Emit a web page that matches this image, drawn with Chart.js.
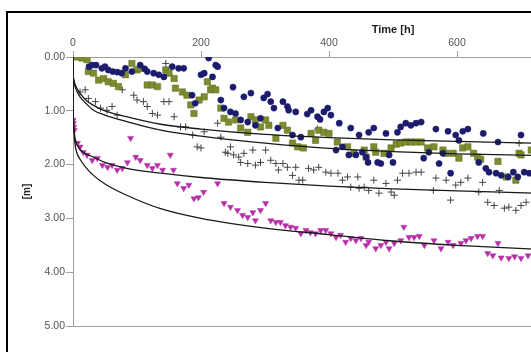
<!DOCTYPE html>
<html>
<head>
<meta charset="utf-8">
<script src="https://cdn.jsdelivr.net/npm/chart.js@4.4.1/dist/chart.umd.min.js"></script>
<style>
  html, body { margin: 0; padding: 0; background: #fff; overflow: hidden; }
  #wrap { width: 531px; height: 352px; overflow: hidden; position: relative; }
  canvas { position: absolute; left: 0; top: 0; }
</style>
</head>
<body>
<div id="wrap"><canvas id="c" width="760" height="352"></canvas></div>
<script>
// ---- data ----
const xTicks = [0, 200, 400, 600, 800, 1000];
const yTicks = [0, 1, 2, 3, 4, 5];

const blueT = [25,30,36,45,50,55,62,69,76,82,92,105,112,116,126,134,142,155,165,173,186,191,200,205,212,218,223,226,231,236,246,250,254,262,267,273,278,285,293,298,304,309,314,320,328,335,337,343,348,356,366,372,382,386,392,398,403,411,416,421,431,434,442,447,452,458,461,462,470,476,481,489,494,500,507,512,520,528,536,544,548,556,567,572,578,586,590,598,603,609,617,634,641,645,650,661,664,669,680,688,695,700,705,713];
const blueY = [0.18,0.15,0.15,0.21,0.18,0.24,0.27,0.28,0.30,0.21,0.27,0.15,0.22,0.27,0.30,0.33,0.37,0.18,0.21,0.21,0.71,0.86,0.33,0.30,0.02,0.37,0.15,0.18,0.80,0.95,1.02,0.56,1.05,1.17,0.74,1.21,0.67,1.27,1.14,0.76,0.69,0.83,0.95,1.32,0.83,0.92,0.99,1.45,1.02,1.49,1.06,0.99,1.11,1.16,1.02,0.95,1.08,1.73,1.23,1.67,1.82,1.32,1.82,1.45,1.77,1.86,1.96,1.40,1.32,1.96,1.98,1.42,1.82,1.96,1.40,1.30,1.23,1.27,1.23,1.21,1.88,1.77,1.34,1.98,1.79,1.38,2.16,1.45,1.55,1.38,1.34,1.96,1.42,2.07,2.14,2.16,1.58,2.20,2.23,2.14,2.23,1.45,2.14,2.16];

const greenT = [4,14,22,24,32,40,48,55,63,71,82,92,100,105,116,124,132,145,150,158,160,171,178,184,189,197,205,210,215,218,223,231,236,243,254,262,273,278,285,293,301,306,317,328,335,343,351,360,372,379,384,392,400,413,429,439,455,458,470,473,486,497,505,512,520,528,536,544,554,564,578,583,594,603,609,617,626,632,637,664,677,692,697,700,716];
const greenY = [0.00,0.02,0.05,0.27,0.30,0.43,0.40,0.46,0.49,0.55,0.33,0.12,0.24,0.21,0.52,0.52,0.55,0.24,0.30,0.40,0.58,0.65,0.71,0.89,1.05,0.80,0.74,0.46,0.61,0.58,0.61,0.95,1.14,1.21,1.17,1.32,1.40,1.11,1.17,1.30,1.17,1.27,1.51,1.27,1.36,1.60,1.67,1.69,1.42,1.55,1.36,1.40,1.42,1.58,1.67,1.79,1.73,1.86,1.67,1.77,1.79,1.69,1.62,1.60,1.58,1.58,1.58,1.58,1.69,1.67,1.73,1.79,1.79,1.88,1.69,1.67,1.79,1.86,1.90,1.94,2.23,2.29,1.79,1.82,1.73];

const crossT = [11,19,24,35,43,53,61,69,77,95,100,110,116,124,132,142,145,150,158,168,176,187,194,200,205,226,231,238,242,246,251,259,262,267,273,281,285,293,301,309,317,321,328,335,343,348,353,359,368,376,382,384,395,403,414,421,429,434,445,447,455,462,470,478,489,497,502,507,515,525,536,544,563,567,583,590,598,606,617,634,640,648,658,666,674,681,692,697,700,708];
const crossY = [0.65,0.61,0.77,0.83,0.95,0.99,0.92,1.08,0.61,0.71,0.80,0.83,0.92,1.05,1.08,0.83,0.12,0.83,1.11,1.30,1.30,1.45,1.67,1.69,1.39,1.23,1.49,1.77,1.79,1.67,1.82,1.86,1.96,1.79,1.98,1.73,2.01,1.96,1.73,1.92,1.98,2.10,1.98,2.05,2.20,2.05,2.29,2.29,2.07,2.10,1.34,2.05,2.14,2.16,2.16,2.29,2.23,2.42,2.23,2.44,2.42,2.48,2.29,2.53,2.35,2.51,2.57,2.29,2.16,2.16,2.14,2.14,2.48,2.25,2.29,2.66,2.38,2.33,2.25,2.51,2.33,2.70,2.76,2.48,2.81,2.79,2.85,1.60,2.76,2.70];

const magT = [0.3,0.5,1,2,7,11,16,22,30,38,46,54,61,69,77,85,90,98,105,116,124,132,140,152,157,163,173,181,189,196,204,226,236,246,257,265,273,281,285,293,301,309,317,324,332,340,348,356,364,371,379,387,395,403,411,418,426,434,442,450,458,462,473,481,489,494,502,512,517,525,533,541,549,564,575,586,594,606,614,622,632,640,648,656,664,669,681,690,700,711];
const magY = [1.17,1.23,1.30,1.36,1.60,1.67,1.77,1.82,1.92,1.88,2.01,2.05,2.01,2.10,2.07,1.96,1.51,1.86,1.92,2.01,2.07,2.01,2.10,1.82,2.10,2.35,2.44,2.38,2.63,2.61,2.51,2.35,2.72,2.79,2.85,2.94,2.98,2.89,3.04,2.85,2.72,3.04,3.07,3.07,3.13,3.16,3.18,3.28,3.22,3.26,3.28,3.22,3.22,3.28,3.35,3.31,3.44,3.37,3.41,3.37,3.50,3.44,3.56,3.50,3.44,3.56,3.46,3.41,3.16,3.35,3.35,3.33,3.50,3.41,3.56,3.44,3.50,3.46,3.41,3.37,3.33,3.33,3.65,3.69,3.46,3.73,3.74,3.71,3.74,3.69];

// fitted curves
const fitT  = [0, 0.3, 1, 3, 6, 11, 20, 32, 50, 84, 137, 200, 300, 400, 500, 600, 720];
const fit1Y = [0, 0.30, 0.40, 0.50, 0.58, 0.67, 0.80, 0.90, 1.00, 1.11, 1.25, 1.34, 1.44, 1.50, 1.54, 1.57, 1.60];
const fit2Y = [0, 0.32, 0.43, 0.54, 0.63, 0.74, 0.86, 0.99, 1.08, 1.20, 1.36, 1.47, 1.60, 1.70, 1.76, 1.80, 1.83];
const fit3Y = [0, 1.00, 1.28, 1.50, 1.62, 1.72, 1.80, 1.86, 1.96, 2.07, 2.16, 2.24, 2.33, 2.40, 2.45, 2.49, 2.53];
const fit4Y = [0, 0.90, 1.25, 1.60, 1.78, 1.90, 2.05, 2.20, 2.36, 2.57, 2.82, 3.00, 3.18, 3.30, 3.42, 3.50, 3.57];

const pts = (t, y) => t.map((v, i) => ({x: v, y: y[i]}));

const fitDs = (y) => ({
  type: 'line', data: pts(fitT, y), borderColor: '#1a1a1a', borderWidth: 1.3,
  pointRadius: 0, fill: false, cubicInterpolationMode: 'monotone', order: 0
});

const frame = {
  id: 'frame',
  beforeDraw(chart) {
    const ctx = chart.ctx;
    ctx.save();
    ctx.fillStyle = '#fff';
    ctx.fillRect(0, 0, chart.width, chart.height);
    ctx.strokeStyle = '#000';
    ctx.lineWidth = 2;
    ctx.strokeRect(7, 12, 1200, 1200);
    ctx.restore();
  },
  afterDraw(chart) {
    const {ctx, chartArea: a} = chart;
    ctx.save();
    ctx.strokeStyle = '#a0a0a0';
    ctx.lineWidth = 1;
    ctx.beginPath();
    ctx.moveTo(a.left, a.bottom + 0.5);
    ctx.lineTo(a.right, a.bottom + 0.5);
    ctx.stroke();
    ctx.restore();
  }
};

new Chart(document.getElementById('c'), {
  type: 'scatter',
  data: {
    datasets: [
      fitDs(fit1Y), fitDs(fit2Y), fitDs(fit3Y), fitDs(fit4Y),
      { data: pts(blueT, blueY), pointStyle: 'circle', pointRadius: 3.1,
        backgroundColor: '#1c1c6e', borderColor: '#1c1c6e', borderWidth: 0.5, order: 2 },
      { data: pts(greenT, greenY), pointStyle: 'rect', pointRadius: 4.5,
        backgroundColor: '#7d8c2e', borderColor: '#5f6b1e', borderWidth: 0.5, order: 3 },
      { data: pts(crossT, crossY), pointStyle: 'cross', pointRadius: 3.5,
        borderColor: '#444', backgroundColor: '#444', borderWidth: 1, order: 4 },
      { data: pts(magT, magY), pointStyle: 'triangle', rotation: 180, pointRadius: 3.5,
        backgroundColor: '#b82ea8', borderColor: '#b82ea8', borderWidth: 0.5, order: 5 }
    ]
  },
  options: {
    responsive: false,
    animation: false,
    events: [],
    layout: { padding: { left: 0, top: 0, right: 47, bottom: 26 } },
    plugins: { legend: { display: false }, tooltip: { enabled: false } },
    scales: {
      x: {
        type: 'linear', position: 'top', min: 0, max: 1000,
        afterBuildTicks: (s) => { s.ticks = xTicks.map(v => ({value: v})); },
        afterFit: (s) => { s.height = 57; },
        ticks: { color: '#555', font: { family: 'Liberation Sans', size: 10.5 }, padding: 2,
                 maxRotation: 0, callback: (v) => String(v) },
        grid: { drawOnChartArea: false, drawTicks: true, tickLength: 6, color: '#a0a0a0' },
        border: { display: true, color: '#a0a0a0', width: 1 },
        title: { display: true, text: 'Time [h]', color: '#222',
                 font: { family: 'Liberation Sans', size: 11, weight: 'bold' },
                 padding: { top: 23, bottom: 0 } }
      },
      y: {
        type: 'linear', position: 'left', min: 0, max: 5, reverse: true,
        afterBuildTicks: (s) => { s.ticks = yTicks.map(v => ({value: v})); },
        afterFit: (s) => { s.width = 73; },
        ticks: { color: '#555', font: { family: 'Liberation Sans', size: 10.5 }, padding: 1,
                 callback: (v) => Number(v).toFixed(2) },
        grid: { drawOnChartArea: false, drawTicks: true, tickLength: 7, color: '#a0a0a0' },
        border: { display: true, color: '#a0a0a0', width: 1 },
        title: { display: true, text: '[m]', color: '#222',
                 font: { family: 'Liberation Sans', size: 10, weight: 'bold' },
                 padding: { top: 21, bottom: 0 } }
      }
    }
  },
  plugins: [frame]
});
</script>
</body>
</html>
